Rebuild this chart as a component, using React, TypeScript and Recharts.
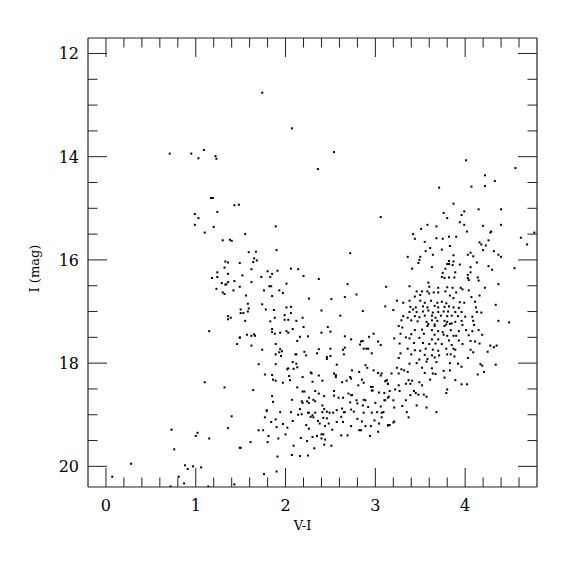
import { ScatterChart, Scatter, XAxis, YAxis } from 'recharts'

type Star = [number, number]

// V-I colour, I magnitude
const brightStars: Star[] = [
  [0.71, 13.94], [0.95, 13.94], [1.09, 13.87], [1.03, 14.03], [1.22, 13.99], [1.23, 14.04],
  [1.17, 14.8], [1.19, 14.8], [1.43, 14.94], [1.48, 14.93], [1.24, 15.07], [0.99, 15.11],
  [1.03, 15.19], [0.99, 15.32], [1.2, 15.36], [1.1, 15.47], [1.74, 12.76], [2.07, 13.45],
  [2.54, 13.91], [2.36, 14.24], [3.06, 15.17], [1.89, 15.35], [1.55, 15.5],
]

const blueBranch: Star[] = [
  [1.3, 15.62], [1.38, 15.61], [1.4, 15.63], [1.33, 16.03], [1.36, 16.05], [1.49, 16.06],
  [1.32, 16.15], [1.24, 16.24], [1.36, 16.27], [1.24, 16.33], [1.18, 16.35], [1.29, 16.45],
  [1.33, 16.48], [1.34, 16.47], [1.36, 16.43], [1.43, 16.41], [1.49, 16.52], [1.23, 16.56],
  [1.42, 16.59], [1.3, 16.63], [1.32, 16.66], [1.36, 17.09], [1.39, 17.12], [1.36, 17.15],
  [1.15, 17.38], [1.49, 17.51], [1.46, 17.63], [1.1, 18.37], [1.32, 18.47],
  [0.73, 19.29], [0.76, 19.67], [1.0, 19.41], [1.02, 19.35], [1.15, 19.46], [1.36, 19.26],
  [1.4, 19.03], [1.49, 19.64], [0.28, 19.95], [0.07, 20.2], [0.88, 19.98], [0.91, 20.05],
  [0.97, 20.0], [1.06, 20.02], [0.81, 20.2], [0.87, 20.33], [0.72, 20.39], [1.14, 20.39],
  [1.43, 20.35],
]

const yellowUpper: Star[] = [
  [1.59, 15.85], [1.67, 15.84], [1.9, 15.81], [2.72, 15.87], [1.65, 15.97], [1.68, 16.01],
  [1.64, 16.04], [1.62, 16.18], [1.8, 16.22], [1.85, 16.27], [1.91, 16.21], [2.06, 16.17],
  [2.14, 16.18], [1.52, 16.3], [1.73, 16.33], [1.83, 16.33], [2.2, 16.31], [2.37, 16.37],
  [1.62, 16.43], [2.01, 16.46], [2.69, 16.47], [1.82, 16.51], [1.84, 16.51], [1.76, 16.59],
  [1.93, 16.59], [1.97, 16.64], [3.12, 16.52], [1.56, 16.69], [1.85, 16.7], [2.79, 16.67],
  [2.66, 16.72], [2.26, 16.75], [2.51, 16.76], [1.58, 16.85], [1.74, 16.86], [2.06, 16.91],
  [1.5, 16.96], [1.59, 16.94], [1.78, 16.96], [1.87, 16.97], [2.01, 16.92], [1.58, 17.0],
  [1.5, 17.03], [1.53, 17.03], [2.06, 17.03], [2.4, 16.98], [3.11, 16.9], [2.86, 16.99],
  [2.61, 17.08], [1.99, 17.07], [1.88, 17.12], [2.19, 17.12], [1.55, 17.18], [1.83, 17.19],
  [1.99, 17.16], [2.03, 17.16], [2.12, 17.18],
]

const yellowLower: Star[] = [
  [2.08, 17.34], [2.2, 17.3], [2.47, 17.3], [2.5, 17.39], [1.85, 17.34], [1.85, 17.4],
  [1.88, 17.43], [1.94, 17.41], [2.01, 17.38], [2.03, 17.41], [1.57, 17.45], [1.62, 17.47],
  [1.65, 17.44], [1.66, 17.47], [1.49, 17.5], [2.16, 17.49], [2.25, 17.48], [2.4, 17.41],
  [2.66, 17.48], [2.73, 17.54], [2.13, 17.57], [2.98, 17.43], [2.93, 17.49], [1.62, 17.66],
  [1.89, 17.63], [1.74, 17.74], [1.94, 17.73], [1.96, 17.77], [1.93, 17.79], [1.89, 17.83],
  [1.95, 17.86], [2.11, 17.83], [2.12, 17.83], [2.21, 17.78], [2.23, 17.85], [2.37, 17.73],
  [2.35, 17.81], [2.5, 17.72], [2.46, 17.88], [2.5, 17.86], [2.46, 17.92], [2.64, 17.74],
  [2.66, 17.7], [2.65, 17.83], [2.84, 17.58], [2.86, 17.57], [2.83, 17.64], [2.87, 17.72],
  [2.9, 17.72], [2.92, 17.72], [2.96, 17.81], [3.03, 17.58], [3.06, 17.65], [1.7, 18.02],
  [1.89, 18.02], [2.08, 17.98], [2.12, 18.01], [2.13, 18.08], [2.09, 18.11], [2.02, 18.12],
  [2.03, 18.1], [2.28, 18.18], [2.29, 18.2], [2.57, 18.03], [2.74, 18.14], [2.82, 18.17],
  [2.89, 18.04], [2.91, 18.09], [2.98, 18.14], [3.03, 18.19], [3.07, 18.2], [3.06, 18.24],
  [1.77, 18.22], [1.85, 18.23], [1.86, 18.32], [1.89, 18.34], [1.97, 18.38], [2.04, 18.25],
  [2.05, 18.33], [2.19, 18.27], [2.3, 18.36], [2.37, 18.24], [2.41, 18.34], [2.54, 18.2],
  [2.56, 18.23], [2.56, 18.27], [2.63, 18.37], [2.68, 18.34], [2.73, 18.3], [2.72, 18.27],
  [2.85, 18.32], [2.87, 18.38], [2.95, 18.46], [2.97, 18.46], [2.96, 18.53], [2.97, 18.53],
  [2.81, 18.43], [3.04, 18.57], [3.1, 18.58], [3.12, 18.34], [3.14, 18.4], [1.64, 18.52],
  [2.13, 18.47], [2.19, 18.55], [2.21, 18.55], [2.33, 18.54], [2.54, 18.54], [2.37, 18.59],
  [2.43, 18.64], [2.54, 18.63], [2.59, 18.67], [2.64, 18.67], [2.7, 18.59], [2.73, 18.62],
  [2.74, 18.62], [2.26, 18.67], [2.31, 18.71], [2.33, 18.74], [2.07, 18.71], [1.85, 18.64],
  [1.86, 18.75], [2.18, 18.74], [2.19, 18.77], [2.24, 18.74], [2.26, 18.77], [2.16, 18.89],
  [2.25, 18.96], [2.41, 18.82], [2.43, 18.89], [2.46, 18.94], [2.49, 18.96], [2.63, 18.88],
  [2.65, 18.95], [2.72, 18.76], [2.79, 18.72], [2.8, 18.78], [2.87, 18.71], [2.89, 18.72],
  [2.86, 18.82], [2.92, 18.85], [3.0, 18.77], [3.06, 18.84], [3.1, 18.72], [3.15, 18.65],
  [1.79, 18.91], [2.06, 18.95], [2.57, 18.91], [2.73, 18.9], [3.02, 18.95], [3.07, 18.96],
]

const faintCloud: Star[] = [
  [1.5, 19.64], [1.61, 19.53], [1.76, 20.15], [1.9, 20.1], [1.91, 19.81], [2.07, 19.78],
  [2.16, 19.8], [2.25, 19.79], [2.09, 19.6], [2.32, 19.65], [2.43, 19.58], [2.51, 19.6],
  [1.8, 19.53], [1.92, 19.46], [1.81, 19.41], [1.7, 19.3], [1.75, 19.3], [2.0, 19.38],
  [2.17, 19.45], [2.24, 19.51], [2.3, 19.43], [2.35, 19.41], [2.4, 19.46], [2.44, 19.48],
  [2.4, 19.38], [2.42, 19.38], [2.62, 19.4], [2.69, 19.4], [2.94, 19.41], [3.03, 19.33],
  [1.77, 19.05], [1.84, 19.14], [1.89, 19.09], [1.9, 19.24], [1.97, 19.18], [2.02, 19.25],
  [2.08, 19.12], [2.14, 19.0], [2.18, 18.99], [2.23, 19.2], [2.26, 19.27], [2.26, 18.96],
  [2.28, 19.04], [2.3, 19.01], [2.31, 19.05], [2.33, 18.96], [2.36, 19.12], [2.38, 19.17],
  [2.41, 18.95], [2.44, 19.22], [2.46, 19.07], [2.42, 19.06], [2.48, 19.17], [2.53, 18.96],
  [2.57, 19.14], [2.52, 19.29], [2.62, 19.04], [2.66, 18.95], [2.64, 19.14], [2.73, 19.22],
  [2.76, 18.94], [2.8, 19.08], [2.85, 19.13], [2.87, 18.96], [2.89, 19.22], [2.82, 19.3],
  [2.84, 19.3], [2.95, 19.22], [2.96, 18.96], [2.99, 19.11], [3.04, 19.17], [3.07, 19.05],
  [3.09, 18.95], [3.14, 19.2], [1.94, 18.95], [1.79, 18.93], [3.37, 19.05], [3.14, 19.21],
  [3.16, 19.2], [3.21, 19.13], [3.2, 19.15],
]

const giantUpper: Star[] = [
  [4.01, 14.07], [4.56, 14.22], [4.22, 14.36], [4.33, 14.47], [3.71, 14.6], [4.07, 14.58],
  [4.22, 14.57], [3.87, 14.91], [3.76, 15.09], [3.99, 15.06], [3.96, 15.13], [3.8, 15.19],
  [4.15, 15.02], [4.4, 15.02], [3.94, 15.27], [3.99, 15.32], [4.4, 15.32], [4.2, 15.34],
  [3.58, 15.32], [3.68, 15.35], [3.51, 15.4], [3.42, 15.5], [4.02, 15.45], [4.29, 15.45],
  [4.28, 15.47], [4.77, 15.47], [3.44, 15.59], [3.68, 15.58], [3.75, 15.59], [3.82, 15.55],
  [3.9, 15.55], [4.62, 15.57], [3.55, 15.65], [3.83, 15.73], [4.16, 15.66], [4.18, 15.7],
  [4.26, 15.62], [4.23, 15.72], [4.69, 15.7], [3.61, 15.77], [3.74, 15.8], [3.56, 15.83],
  [4.2, 15.81], [4.32, 15.83], [3.64, 15.9], [3.87, 15.91], [4.03, 15.9], [4.06, 15.86],
  [4.09, 15.93], [4.37, 15.9], [4.4, 15.94], [3.36, 15.94], [3.5, 15.94], [3.49, 16.0],
  [3.48, 16.06], [3.82, 16.02], [3.87, 16.03], [3.8, 16.08], [3.82, 16.08], [3.86, 16.1],
  [3.94, 16.09], [4.13, 16.05], [4.06, 16.14], [3.63, 16.14], [3.41, 16.17], [3.78, 16.17],
  [4.26, 16.12], [4.3, 16.19], [4.55, 16.16], [3.75, 16.25], [3.89, 16.24], [4.06, 16.24],
  [3.74, 16.33], [3.77, 16.35], [3.82, 16.34], [3.88, 16.34], [4.03, 16.29], [4.03, 16.35],
  [4.04, 16.39], [4.14, 16.34], [4.15, 16.4], [3.59, 16.44], [3.38, 16.51], [3.6, 16.52],
  [3.7, 16.54], [3.8, 16.53], [3.86, 16.54], [3.95, 16.54], [3.97, 16.57], [4.04, 16.59],
  [4.22, 16.54], [4.37, 16.47],
]

const giantClump: Star[] = [
  [3.46, 16.61], [3.52, 16.61], [3.58, 16.61], [3.65, 16.63], [3.7, 16.63], [3.78, 16.61],
  [3.9, 16.63], [3.44, 16.71], [3.5, 16.68], [3.6, 16.65], [3.83, 16.69], [3.87, 16.74],
  [4.07, 16.72], [4.16, 16.69], [3.24, 16.79], [3.31, 16.83], [3.38, 16.79], [3.5, 16.79],
  [3.55, 16.83], [3.62, 16.79], [3.69, 16.83], [3.74, 16.81], [3.79, 16.84], [3.94, 16.82],
  [3.99, 16.83], [4.11, 16.81], [4.34, 16.87], [3.2, 16.97], [3.39, 16.91], [3.42, 16.96],
  [3.45, 16.92], [3.53, 16.9], [3.58, 16.92], [3.66, 16.89], [3.7, 16.92], [3.77, 16.91],
  [3.82, 16.9], [3.87, 16.92], [3.93, 16.93], [4.12, 16.92], [3.38, 17.01], [3.46, 17.01],
  [3.53, 17.0], [3.59, 16.98], [3.64, 17.02], [3.7, 17.01], [3.76, 17.0], [3.81, 17.0],
  [3.89, 17.01], [3.96, 17.01], [4.13, 17.01], [4.18, 17.02], [3.31, 17.09], [3.36, 17.12],
  [3.44, 17.09], [3.49, 17.11], [3.55, 17.08], [3.63, 17.08], [3.67, 17.12], [3.73, 17.08],
  [3.8, 17.09], [3.85, 17.08], [3.92, 17.09], [4.0, 17.1], [4.08, 17.1], [3.29, 17.17],
  [3.4, 17.17], [3.47, 17.19], [3.57, 17.2], [3.63, 17.17], [3.69, 17.18], [3.77, 17.18],
  [3.8, 17.2], [3.89, 17.2], [3.96, 17.18], [4.09, 17.18], [4.37, 17.18], [4.49, 17.21],
  [3.59, 17.24], [3.66, 17.25], [3.79, 17.25], [3.85, 17.23],
]

const giantLower: Star[] = [
  [3.26, 17.28], [3.3, 17.31], [3.58, 17.28], [3.66, 17.28], [3.77, 17.28], [3.83, 17.24],
  [3.97, 17.26], [4.1, 17.26], [3.44, 17.36], [3.52, 17.35], [3.63, 17.36], [3.7, 17.38],
  [3.75, 17.4], [3.84, 17.36], [3.93, 17.38], [4.01, 17.36], [4.08, 17.38], [4.15, 17.36],
  [3.28, 17.43], [3.4, 17.44], [3.54, 17.43], [3.66, 17.45], [3.76, 17.45], [3.8, 17.47],
  [3.87, 17.47], [3.9, 17.47], [4.04, 17.46], [4.19, 17.45], [3.21, 17.52], [3.34, 17.5],
  [3.38, 17.52], [3.49, 17.51], [3.63, 17.54], [3.7, 17.54], [3.82, 17.56], [3.93, 17.56],
  [4.06, 17.57], [4.11, 17.58], [3.27, 17.62], [3.43, 17.61], [3.53, 17.61], [3.6, 17.63],
  [3.67, 17.62], [3.74, 17.63], [3.85, 17.65], [3.97, 17.63], [4.16, 17.62], [4.28, 17.66],
  [4.32, 17.69], [4.35, 17.66], [3.36, 17.72], [3.44, 17.75], [3.5, 17.76], [3.56, 17.72],
  [3.64, 17.74], [3.7, 17.76], [3.79, 17.72], [3.87, 17.72], [3.89, 17.74], [4.06, 17.74],
  [4.09, 17.79], [4.25, 17.78], [3.28, 17.81], [3.4, 17.83], [3.55, 17.84], [3.63, 17.85],
  [3.71, 17.85], [3.8, 17.83], [3.84, 17.83], [3.88, 17.87], [3.26, 17.9], [3.49, 17.93],
  [3.58, 17.92], [3.66, 17.89], [4.03, 17.9], [3.38, 18.01], [3.46, 18.0], [3.57, 17.97],
  [3.68, 17.98], [3.83, 18.0], [3.92, 18.01], [4.17, 18.02], [4.19, 18.05], [4.34, 18.03],
  [3.24, 18.09], [3.29, 18.12], [3.32, 18.14], [3.52, 18.09], [3.63, 18.1], [3.76, 18.15],
  [3.83, 18.14], [3.96, 18.07], [3.18, 18.2], [3.26, 18.2], [3.36, 18.17], [3.55, 18.19],
  [3.64, 18.2], [3.67, 18.21], [4.14, 18.22], [4.21, 18.17], [3.13, 18.33], [3.37, 18.33],
  [3.41, 18.34], [3.49, 18.37], [3.61, 18.32], [3.77, 18.28], [3.89, 18.33], [3.96, 18.41],
  [4.02, 18.41], [3.11, 18.35], [3.14, 18.4], [3.26, 18.43], [3.34, 18.4], [3.39, 18.4],
  [3.52, 18.43], [3.8, 18.51], [3.79, 18.58], [3.22, 18.51], [3.27, 18.54], [3.16, 18.54],
  [3.43, 18.54], [3.45, 18.58], [3.39, 18.62], [3.48, 18.61], [3.54, 18.61], [3.57, 18.65],
  [3.14, 18.67], [3.2, 18.72], [3.34, 18.72], [3.11, 18.72], [3.21, 18.86], [3.3, 18.83],
  [3.46, 18.82], [3.57, 18.86], [3.35, 18.95], [3.68, 18.95],
]

const stars = [
  ...brightStars, ...blueBranch, ...yellowUpper, ...yellowLower,
  ...faintCloud, ...giantUpper, ...giantClump, ...giantLower,
].map(([vi, mag]) => ({ vi, mag }))

const xTicks = [0, 0.2, 0.4, 0.6, 0.8, 1, 1.2, 1.4, 1.6, 1.8, 2, 2.2, 2.4, 2.6, 2.8, 3, 3.2, 3.4, 3.6, 3.8, 4, 4.2, 4.4, 4.6]
const yTicks = [12, 12.5, 13, 13.5, 14, 14.5, 15, 15.5, 16, 16.5, 17, 17.5, 18, 18.5, 19, 19.5, 20]

const ink = '#222'
const font = '"DejaVu Serif", "Liberation Serif", serif'

const isMajorX = (v: number) => Math.abs(v - Math.round(v)) < 1e-6
const isMajorY = (v: number) => Math.abs(v / 2 - Math.round(v / 2)) < 1e-6

const BottomTick = ({ x, y, payload }: any) => {
  const major = isMajorX(payload.value)
  return (
    <g>
      <line x1={x} x2={x} y1={y} y2={y - (major ? 19 : 9.5)} stroke={ink} />
      {major && (
        <text x={x} y={y + 24} textAnchor="middle" fontSize={16} fontFamily={font} fill="#000">
          {Math.round(payload.value)}
        </text>
      )}
    </g>
  )
}

const TopTick = ({ x, y, payload }: any) => {
  const major = isMajorX(payload.value)
  return <line x1={x} x2={x} y1={y} y2={y + (major ? 19 : 9.5)} stroke={ink} />
}

const LeftTick = ({ x, y, payload }: any) => {
  const major = isMajorY(payload.value)
  return (
    <g>
      <line x1={x} x2={x + (major ? 19 : 9.5)} y1={y} y2={y} stroke={ink} />
      {major && (
        <text x={x - 9} y={y + 6} textAnchor="end" fontSize={16} fontFamily={font} fill="#000">
          {payload.value}
        </text>
      )}
    </g>
  )
}

const RightTick = ({ x, y, payload }: any) => {
  const major = isMajorY(payload.value)
  return <line x1={x} x2={x - (major ? 19 : 9.5)} y1={y} y2={y} stroke={ink} />
}

const Dot = ({ cx, cy }: any) => <rect x={cx - 1} y={cy - 1} width={2} height={2} fill="#000" />
const NoDot = () => <g />

export default function App() {
  return (
    <ScatterChart width={555} height={555} margin={{ top: 29, right: 25, bottom: 0, left: 0 }}>
      <XAxis
        xAxisId="b" dataKey="vi" type="number" domain={[-0.2, 4.8]} allowDataOverflow
        ticks={xTicks} interval={0} tickSize={0} tickMargin={0} tick={<BottomTick />}
        height={76} axisLine={{ stroke: ink, strokeWidth: 1.2 }}
        label={(p: any) => (
          <text x={p.viewBox.x + p.viewBox.width / 2 - 10} y={p.viewBox.y + 43} textAnchor="middle" fontSize={13} fontFamily={font} fill="#000">V-I</text>
        )}
      />
      <XAxis
        xAxisId="t" dataKey="vi" orientation="top" type="number" domain={[-0.2, 4.8]} allowDataOverflow
        ticks={xTicks} interval={0} tickSize={0} tickMargin={0} tick={<TopTick />}
        height={1} axisLine={{ stroke: ink, strokeWidth: 1.2 }}
      />
      <YAxis
        yAxisId="l" dataKey="mag" type="number" domain={[11.7, 20.4]} reversed allowDataOverflow
        ticks={yTicks} interval={0} tickSize={0} tickMargin={0} tick={<LeftTick />}
        width={80} axisLine={{ stroke: ink, strokeWidth: 1.2 }}
        label={(p: any) => {
          const cx = 31
          const cy = p.viewBox.y + p.viewBox.height / 2 + 6
          return (
            <text x={cx} y={cy} transform={`rotate(-90 ${cx} ${cy})`} textAnchor="middle" fontSize={13} fontFamily={font} fill="#000">I (mag)</text>
          )
        }}
      />
      <YAxis
        yAxisId="r" dataKey="mag" orientation="right" type="number" domain={[11.7, 20.4]} reversed allowDataOverflow
        ticks={yTicks} interval={0} tickSize={0} tickMargin={0} tick={<RightTick />}
        width={1} axisLine={{ stroke: ink, strokeWidth: 1.2 }}
      />
      <Scatter xAxisId="b" yAxisId="l" data={stars} shape={<Dot />} isAnimationActive={false} />
      <Scatter xAxisId="t" yAxisId="r" data={stars} shape={<NoDot />} isAnimationActive={false} />
    </ScatterChart>
  )
}
